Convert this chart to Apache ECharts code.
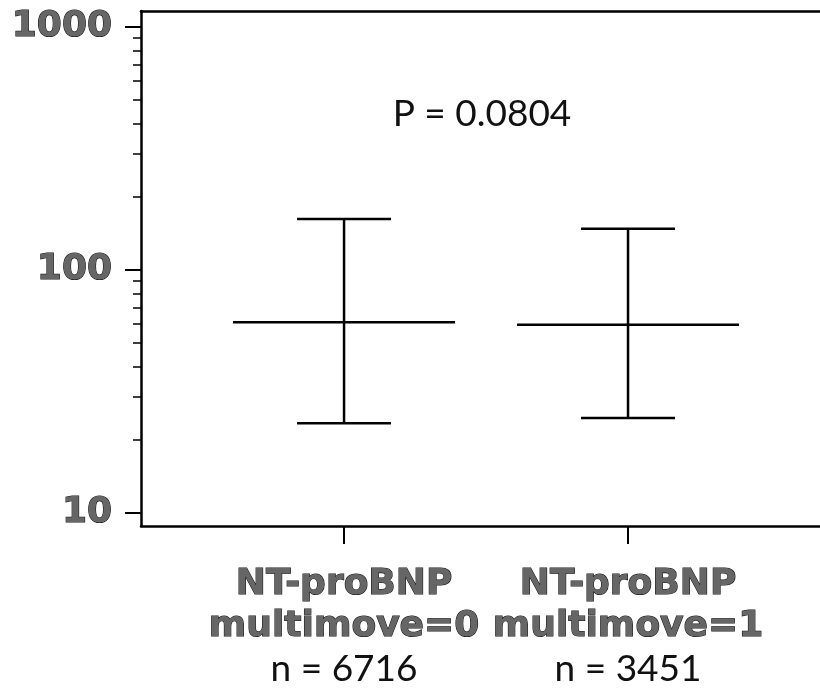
<!DOCTYPE html>
<html>
<head>
<meta charset="utf-8">
<script src="https://cdn.jsdelivr.net/npm/echarts@6/dist/echarts.min.js"></script>
<style>
  html, body { margin: 0; padding: 0; background: #fff; }
  #main { width: 820px; height: 691px; }
</style>
</head>
<body>
<div id="main"></div>
<script>
var dom = document.getElementById('main');
var myChart = echarts.init(dom);

// groups (x position 1, 2)
var groupNames = ['NT-proBNP\nmultimove=0', 'NT-proBNP\nmultimove=1'];
var groupN = [6716, 3451];
var groupX = [1, 2];
// median and error bar ends
var medians = [61, 59.5];
var lows = [23.4, 24.6];
var highs = [162, 148];

var majorTicks = [10, 100, 1000];
var minorTicks = [20, 30, 40, 50, 60, 70, 80, 90, 200, 300, 400, 500, 600, 700, 800, 900];
var pText = 'P = 0.0804';

var data = [];
for (var i = 0; i < groupX.length; i++) {
    data.push([groupX[i], lows[i], medians[i], highs[i]]);
}

var boldStyle = {
    fontFamily: 'DejaVu Sans',
    fontWeight: 'bold',
    fontSize: 36,
    color: '#666',
    textBorderColor: '#111',
    textBorderWidth: 1.1
};

function renderBar(params, api) {
    var x = api.value(0);
    var lo = api.coord([x, api.value(1)]);
    var md = api.coord([x, api.value(2)]);
    var hi = api.coord([x, api.value(3)]);
    var capW = 47, medW = 111;
    var st = { stroke: '#000', lineWidth: 2.5 };
    return {
        type: 'group',
        children: [
            { type: 'line', shape: { x1: hi[0], y1: hi[1], x2: lo[0], y2: lo[1] }, style: st },
            { type: 'line', shape: { x1: hi[0] - capW, y1: hi[1], x2: hi[0] + capW, y2: hi[1] }, style: st },
            { type: 'line', shape: { x1: lo[0] - capW, y1: lo[1], x2: lo[0] + capW, y2: lo[1] }, style: st },
            { type: 'line', shape: { x1: md[0] - medW, y1: md[1], x2: md[0] + medW, y2: md[1] }, style: st }
        ]
    };
}

var option = {
    animation: false,
    backgroundColor: '#fff',
    grid: { left: 141, right: 0, top: 11, bottom: 165 },
    graphic: [{
        type: 'text',
        x: 482,
        y: 114,
        style: {
            text: pText,
            font: '37px Lato',
            fill: '#111',
            textAlign: 'center',
            textVerticalAlign: 'middle'
        }
    }],
    xAxis: [
        {
            type: 'value',
            min: 0.285,
            max: 2.676,
            splitLine: { show: false },
            axisLine: { show: true, onZero: false, lineStyle: { color: '#000', width: 2.5 } },
            axisTick: { show: true, customValues: groupX, length: 18, lineStyle: { color: '#000', width: 2 } },
            axisLabel: {
                customValues: groupX,
                margin: 38,
                lineHeight: 42,
                formatter: function (v) {
                    var k = Math.round(v) - 1;
                    var parts = groupNames[k].split('\n');
                    return '{b|' + parts[0] + '}\n{b|' + parts[1] + '}\n{n|n = ' + groupN[k] + '}';
                },
                rich: {
                    b: Object.assign({ lineHeight: 42 }, boldStyle),
                    n: { fontFamily: 'Lato', fontSize: 37, color: '#111', lineHeight: 42 }
                }
            }
        },
        {
            type: 'value',
            position: 'top',
            min: 0.285,
            max: 2.676,
            splitLine: { show: false },
            axisLine: { show: true, onZero: false, lineStyle: { color: '#000', width: 2.5 } },
            axisTick: { show: false },
            axisLabel: { show: false }
        }
    ],
    yAxis: [
        {
            type: 'log',
            logBase: 10,
            min: 8.84,
            max: 1164,
            splitLine: { show: false },
            axisLine: { show: true, onZero: false, lineStyle: { color: '#000', width: 2.5 } },
            axisTick: { show: true, customValues: majorTicks, length: 16, lineStyle: { color: '#000', width: 2 } },
            axisLabel: {
                customValues: majorTicks,
                margin: 29,
                fontFamily: boldStyle.fontFamily,
                fontWeight: boldStyle.fontWeight,
                fontSize: boldStyle.fontSize,
                color: boldStyle.color,
                textBorderColor: boldStyle.textBorderColor,
                textBorderWidth: boldStyle.textBorderWidth,
                formatter: function (v) { return String(Math.round(v)); }
            }
        },
        {
            type: 'log',
            logBase: 10,
            min: 8.84,
            max: 1164,
            position: 'left',
            splitLine: { show: false },
            axisLine: { show: false },
            axisTick: { show: true, customValues: minorTicks, length: 8, lineStyle: { color: '#000', width: 1.5 } },
            axisLabel: { show: false }
        }
    ],
    series: [{
        type: 'custom',
        xAxisIndex: 0,
        yAxisIndex: 0,
        renderItem: renderBar,
        encode: { x: 0, y: [1, 2, 3] },
        data: data
    }]
};

myChart.setOption(option);
</script>
</body>
</html>
